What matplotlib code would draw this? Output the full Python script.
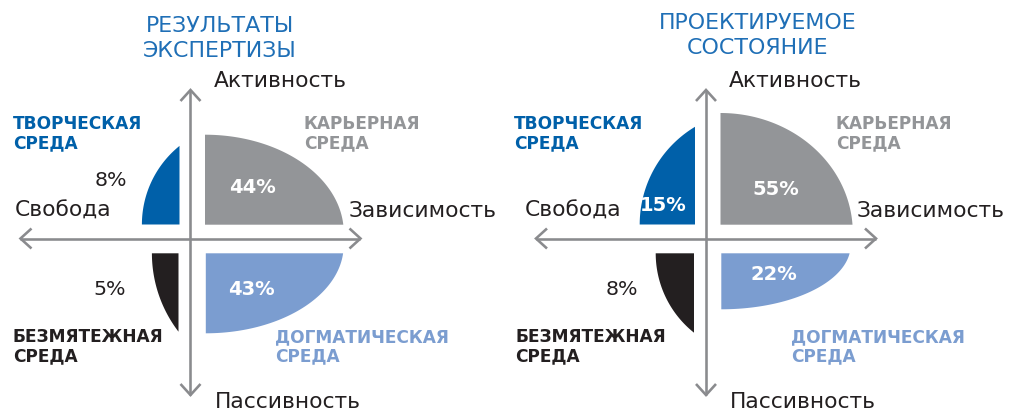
import numpy as np
import matplotlib.pyplot as plt
from matplotlib.patches import Polygon

# Data
titles = ["РЕЗУЛЬТАТЫ\nЭКСПЕРТИЗЫ", "ПРОЕКТИРУЕМОЕ\nСОСТОЯНИЕ"]
creative = [8, 15]    # творческая среда (upper left)
career = [44, 55]     # карьерная среда (upper right)
serene = [5, 8]       # безмятежная среда (lower left)
dogmatic = [43, 22]   # догматическая среда (lower right)
axis_names = ["Активность", "Пассивность", "Свобода", "Зависимость"]
env_names = ["ТВОРЧЕСКАЯ\nСРЕДА", "КАРЬЕРНАЯ\nСРЕДА", "БЕЗМЯТЕЖНАЯ\nСРЕДА", "ДОГМАТИЧЕСКАЯ\nСРЕДА"]

# Colours
C_CREATIVE = "#0060a9"
C_CAREER = "#939598"
C_SERENE = "#231f20"
C_DOGMATIC = "#7b9dd0"
C_TITLE = "#1f6fb6"
C_AXIS = "#8a8b8e"
C_TEXT = "#231f20"

W, H = 1012, 409
PT = 72 / 100  # px -> pt

# Layout (pixel units): origin of each cross and shape extents (w, h, a, c)
origins = [(190.5, 238.5), (706, 238.5)]
shape_geom = [
    {"creative": (37.6, 78.6, 63.4, 0), "career": (138.3, 90, 0, 8),
     "serene": (26.6, 78.4, 102, 0), "dogmatic": (137.3, 80, 0, 8)},
    {"creative": (55.3, 97.7, 58.6, 0), "career": (132, 111.7, 0, 8),
     "serene": (38.3, 79.4, 63, 0), "dogmatic": (128.3, 56, 0, 8)},
]
gaps = {"creative": (-11, -14), "career": (14.5, -13.8),
        "serene": (-12, 14.8), "dogmatic": (15.3, 14.8)}
pct_pos = [
    {"creative": (126.7, 185.7, "right"), "career": (252, 193.3, "center"),
     "serene": (125.7, 295, "right"), "dogmatic": (251, 295, "center")},
    {"creative": (662.7, 210.7, "center"), "career": (776.3, 195, "center"),
     "serene": (638.3, 295, "right"), "dogmatic": (774, 280, "center")},
]
env_pos = [
    [(12.7, 129.3), (304, 129.3), (12.7, 342.3), (275, 342.3)],
    [(514.3, 129.3), (836, 129.3), (515.3, 342.3), (791, 342.3)],
]
# (x, baseline, ha) for Активность, Пассивность, Свобода, Зависимость
axis_pos = [
    [(213.5, 87, "left"), (215, 407.5, "left"), (111, 217, "right"), (349, 217, "left")],
    [(729, 87, "left"), (730, 407.5, "left"), (621, 217, "right"), (856.7, 217, "left")],
]
title_pos = [(220, 32, 57), (758, 29, 54)]
env_colors = [C_CREATIVE, C_CAREER, C_SERENE, C_DOGMATIC]


def sector(ax, x0, y0, sx, sy, w, h, a, c, color):
    # ellipse centred at (-a, -c) in local coords, clipped to u>=0, v>=0
    A = np.array([[(w + a) ** 2, c ** 2], [a ** 2, (h + c) ** 2]])
    X, Y = np.linalg.solve(A, [1.0, 1.0])
    rx, ry = 1 / np.sqrt(X), 1 / np.sqrt(Y)
    t0 = np.arctan2(c / ry, (w + a) / rx)
    t1 = np.arctan2((h + c) / ry, a / rx)
    t = np.linspace(t0, t1, 100)
    u = np.concatenate([[0], -a + rx * np.cos(t), [0]])
    v = np.concatenate([[0], -c + ry * np.sin(t), [0]])
    u[-2] = 0
    ax.add_patch(Polygon(np.column_stack([x0 + sx * u, y0 + sy * v]),
                         closed=True, fc=color, ec="none"))


def cross(ax, cx, cy):
    kw = dict(color=C_AXIS, lw=2.6 * PT, solid_capstyle="butt", solid_joinstyle="miter")
    top, bot, half = 90, 395, 170
    ax.plot([cx, cx], [top, bot], **kw)
    ax.plot([cx - half, cx + half], [cy, cy], **kw)
    b, s = 11, 10
    ax.plot([cx - s, cx, cx + s], [top + b, top, top + b], **kw)
    ax.plot([cx - s, cx, cx + s], [bot - b, bot, bot - b], **kw)
    ax.plot([cx - half + b, cx - half, cx - half + b], [cy - s, cy, cy + s], **kw)
    ax.plot([cx + half - b, cx + half, cx + half - b], [cy - s, cy, cy + s], **kw)


fig = plt.figure(figsize=(W / 100, H / 100), dpi=100)
ax = fig.add_axes([0, 0, 1, 1])
ax.set_xlim(0, W)
ax.set_ylim(H, 0)
ax.axis("off")

values = {"creative": creative, "career": career, "serene": serene, "dogmatic": dogmatic}
colors = {"creative": C_CREATIVE, "career": C_CAREER, "serene": C_SERENE, "dogmatic": C_DOGMATIC}
dirs = {"creative": (-1, -1), "career": (1, -1), "serene": (-1, 1), "dogmatic": (1, 1)}

for i, (cx, cy) in enumerate(origins):
    cross(ax, cx, cy)
    for key in ["creative", "career", "serene", "dogmatic"]:
        gx, gy = gaps[key]
        sx, sy = dirs[key]
        w, h, a, c = shape_geom[i][key]
        sector(ax, cx + gx, cy + gy, sx, sy, w, h, a, c, colors[key])
        px, py, ha = pct_pos[i][key]
        label = f"{values[key][i]}%"
        if ha == "center":
            ax.text(px, py, label, ha="center", va="baseline", fontsize=19.5 * PT,
                    fontweight="bold", color="white")
        else:
            ax.text(px, py, label, ha="right", va="baseline", fontsize=20.5 * PT,
                    color=C_TEXT)

    # title
    tx, y1, y2 = title_pos[i]
    t1, t2 = titles[i].split("\n")
    ax.text(tx, y1, t1, ha="center", va="baseline", fontsize=22.2 * PT, color=C_TITLE)
    ax.text(tx, y2, t2, ha="center", va="baseline", fontsize=22.2 * PT, color=C_TITLE)

    # axis names
    for (ax_x, ax_y, ha), name in zip(axis_pos[i], axis_names):
        ax.text(ax_x, ax_y, name, ha=ha, va="baseline", fontsize=21.8 * PT, color=C_TEXT)

    # environment names
    for (ex, ey), name, col in zip(env_pos[i], env_names, env_colors):
        l1, l2 = name.split("\n")
        ax.text(ex, ey, l1, ha="left", va="baseline", fontsize=17 * PT,
                fontweight="bold", color=col)
        ax.text(ex, ey + 19, l2, ha="left", va="baseline", fontsize=17 * PT,
                fontweight="bold", color=col)

fig.savefig("out.png", dpi=100)
